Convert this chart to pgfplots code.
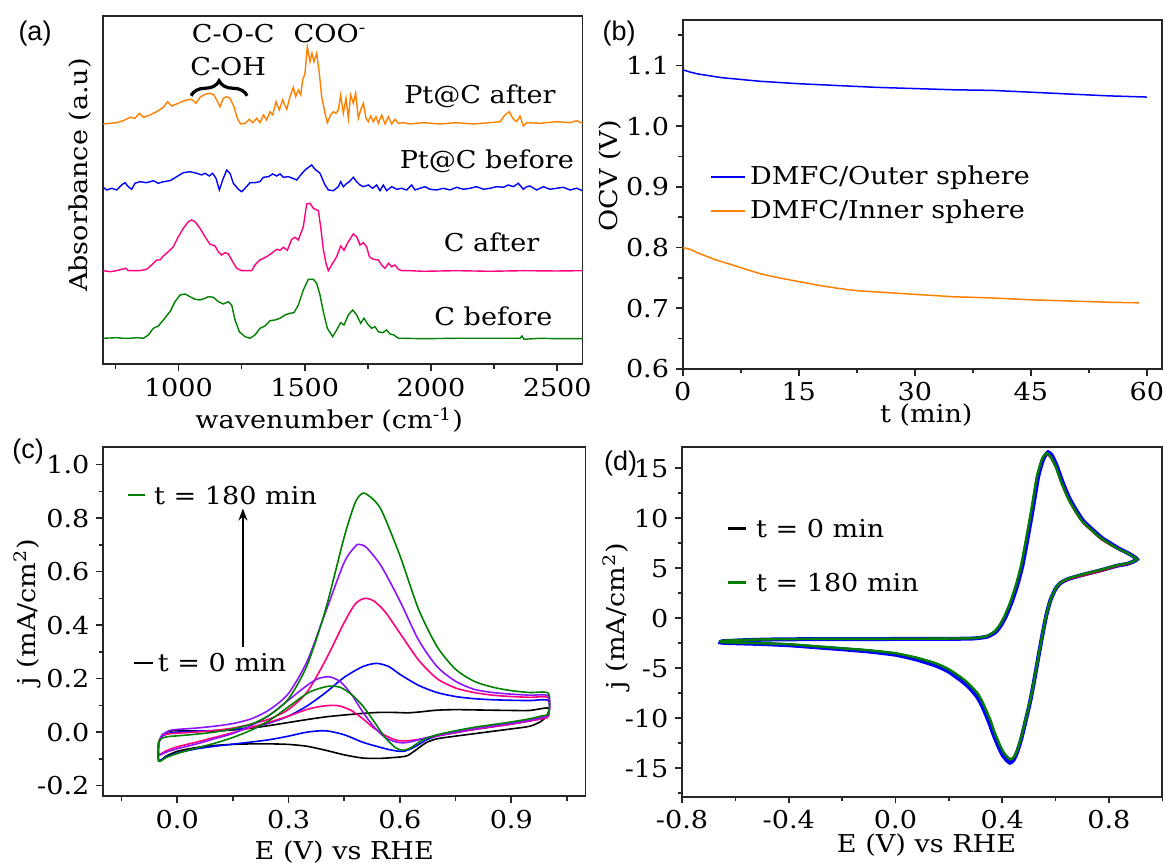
\documentclass[border=0pt]{standalone}
\usepackage{fontspec}
\setmainfont{DejaVu Serif}[FakeStretch=1.1]
\newfontfamily\sansf{Liberation Sans}
\usepackage{pgfplots}
\pgfplotsset{compat=1.18}
\usetikzlibrary{decorations.pathreplacing,arrows.meta}
\definecolor{cOrange}{RGB}{255,128,0}
\definecolor{cBlue}{RGB}{0,0,255}
\definecolor{cPink}{RGB}{255,0,128}
\definecolor{cGreen}{RGB}{0,128,0}
\definecolor{cViolet}{RGB}{140,20,255}
\definecolor{cRed}{RGB}{200,0,60}
\newcommand{\tf}{\fontsize{12.3}{14.5}\selectfont}
\pgfplotsset{
  myax/.style={scale only axis, anchor=south west,
    axis line style={line width=0.9pt, black!85},
    every tick/.style={line width=0.8pt, black!85},
    tick align=outside, tick pos=left,
    major tick length=3.3pt, minor tick length=2.2pt,
    tick label style={font=\tf},
    label style={font=\tf},
    /pgf/number format/assume math mode=true,
    /pgf/number format/1000 sep={},
    clip=false},
  onedec/.style={/pgf/number format/.cd, fixed, fixed zerofill, precision=1}
}
\begin{document}
\begin{tikzpicture}
\path[use as bounding box] (0,0) rectangle (582.5pt,432.5pt);

% ---------------- (a) ----------------
\begin{axis}[myax, at={(51.35pt,250.35pt)}, width=239.9pt, height=174.3pt,
  xmin=700, xmax=2600, ymin=0, ymax=348.6,
  xtick={1000,1500,2000,2500}, minor xtick={750,1250,1750,2250}, ytick=\empty,
  xlabel={wavenumber (cm\textsuperscript{-1})}, ylabel={Absorbance (a.u)},
  xlabel style={at={(rel axis cs:0.472,-0.16)}, anchor=center},
  ylabel style={at={(rel axis cs:-0.047,0.543)}, anchor=center},
  every axis plot/.append style={line width=0.7pt}]
\addplot[cOrange] table {
702.5 240.3
728.9 241.0
755.3 241.6
781.7 243.6
808.1 247.0
827.9 246.0
845.1 251.0
860.9 247.0
887.3 249.3
913.7 252.6
940.1 257.0
957.3 262.6
973.1 258.3
992.9 260.3
1012.7 262.6
1032.5 264.3
1052.3 265.0
1069.5 261.0
1085.3 267.0
1105.1 270.0
1124.9 271.0
1140.7 269.3
1151.3 264.3
1164.5 257.6
1177.7 266.0
1190.9 267.6
1204.1 266.0
1219.9 257.6
1233.1 246.0
1246.3 240.3
1263.5 241.0
1280.7 245.0
1293.9 241.6
1309.7 246.0
1322.9 241.6
1336.1 249.3
1349.3 244.3
1362.5 252.6
1373.1 249.3
1386.3 262.6
1399.5 254.3
1412.7 264.3
1428.5 255.0
1441.7 267.6
1454.9 277.0
1464.1 267.6
1474.7 274.3
1483.9 269.3
1491.9 284.3
1501.1 291.0
1510.3 317.6
1520.9 302.6
1528.8 311.0
1536.7 302.6
1547.3 311.0
1557.9 291.0
1567.1 267.6
1580.3 251.0
1589.5 241.6
1602.7 249.3
1613.3 252.6
1623.9 251.0
1633.1 254.3
1642.3 269.3
1652.9 251.0
1663.5 266.0
1672.7 246.0
1681.9 269.3
1692.5 261.0
1701.7 271.0
1712.3 246.0
1721.5 254.3
1732.1 261.0
1742.7 246.0
1751.9 242.6
1761.1 248.3
1771.7 242.6
1782.3 247.6
1791.5 241.0
1804.7 249.3
1817.9 240.3
1831.1 247.6
1844.3 240.3
1857.5 245.0
1870.7 241.0
1890.5 241.6
1916.9 240.3
1969.7 241.6
2035.7 240.3
2101.7 241.6
2167.7 240.3
2233.7 241.6
2273.3 242.6
2293.1 249.3
2310.3 252.6
2323.5 246.0
2339.3 242.6
2352.5 248.3
2365.7 238.3
2378.9 241.6
2431.7 241.0
2497.7 242.6
2550.5 241.6
2576.9 243.6
2600.0 241.0
};
\addplot[cBlue] table {
702.5 177.0
715.7 174.3
735.5 176.0
755.3 174.3
775.1 179.3
788.3 181.6
801.5 177.6
814.7 175.0
827.9 181.0
847.7 182.6
874.1 181.6
900.5 183.6
920.3 181.0
940.1 182.6
966.5 183.6
992.9 187.6
1019.3 191.6
1045.7 192.6
1072.1 191.0
1091.9 189.3
1105.1 191.0
1122.3 188.3
1135.5 191.0
1148.7 186.0
1161.9 174.3
1175.1 184.3
1190.9 194.3
1204.1 191.0
1217.3 181.0
1237.1 175.0
1250.3 172.6
1263.5 176.0
1283.3 181.6
1303.1 181.6
1322.9 182.6
1336.1 187.0
1355.9 187.6
1373.1 190.3
1388.9 188.3
1402.1 190.3
1415.3 187.0
1435.1 187.6
1452.3 186.0
1468.1 184.3
1483.9 189.3
1501.1 194.3
1518.3 197.6
1527.5 199.3
1540.7 195.0
1560.5 191.0
1580.3 179.3
1593.5 174.3
1613.3 173.6
1633.1 177.6
1642.3 182.6
1652.9 177.6
1663.5 180.3
1676.7 182.6
1692.5 187.0
1705.7 182.6
1718.9 179.3
1732.1 177.6
1751.9 179.3
1769.1 176.0
1784.9 179.3
1798.1 173.6
1811.3 179.3
1824.5 173.6
1844.3 177.6
1864.1 175.0
1883.9 176.0
1903.7 174.3
1923.5 179.3
1936.7 174.3
1956.5 176.0
1976.3 177.6
1996.1 175.0
2022.5 174.3
2048.9 176.0
2075.3 174.3
2101.7 177.0
2128.1 175.0
2154.5 176.0
2180.9 177.6
2207.3 175.0
2233.7 176.0
2260.1 177.6
2286.5 177.0
2306.3 179.3
2326.1 177.6
2345.9 181.0
2365.7 175.0
2378.9 177.6
2392.1 178.3
2418.5 174.3
2444.9 177.6
2471.3 175.0
2497.7 176.0
2524.1 177.0
2550.5 174.3
2576.9 176.0
2600.0 173.6
};
\addplot[cPink] table {
702.5 93.6
728.9 92.6
755.3 93.6
775.1 95.0
792.3 96.0
801.5 93.6
821.3 93.6
847.7 93.6
874.1 95.0
893.9 99.3
913.7 104.3
926.9 104.3
940.1 108.3
959.9 112.6
979.7 117.6
999.5 127.6
1019.3 136.0
1039.1 142.6
1052.3 144.3
1065.5 142.6
1085.3 136.0
1105.1 127.6
1124.9 120.0
1144.7 118.3
1157.9 112.6
1171.1 109.3
1184.3 111.6
1197.5 110.3
1214.7 102.6
1230.5 96.0
1250.3 93.6
1270.1 93.6
1289.9 93.6
1303.1 99.3
1322.9 104.3
1349.3 107.6
1369.1 111.0
1388.9 115.0
1402.1 114.0
1415.3 117.0
1431.1 114.0
1448.3 125.0
1461.5 127.0
1474.7 124.3
1494.5 137.6
1507.7 160.3
1520.9 161.0
1534.1 156.0
1553.9 153.6
1563.1 137.6
1573.7 115.0
1584.3 101.0
1593.5 93.6
1606.7 99.3
1626.5 107.6
1642.3 118.3
1655.5 114.0
1672.7 122.6
1692.5 130.3
1705.7 127.6
1718.9 119.3
1732.1 121.6
1745.3 117.6
1755.9 107.6
1771.7 105.0
1791.5 104.3
1804.7 99.3
1817.9 96.0
1831.1 101.0
1844.3 97.6
1857.5 99.3
1870.7 95.0
1883.9 93.6
1916.9 93.6
1969.7 93.0
2101.7 93.6
2233.7 93.0
2365.7 93.6
2497.7 93.3
2600.0 93.6
};
\addplot[cGreen] table {
702.5 26.0
755.3 26.6
781.7 26.0
808.1 26.0
834.5 26.6
860.9 26.0
880.7 29.3
900.5 36.0
920.3 38.3
940.1 44.3
966.5 52.6
986.3 62.6
1006.1 69.3
1025.9 70.3
1045.7 67.6
1065.5 65.0
1085.3 64.3
1105.1 66.0
1118.3 67.6
1138.1 67.0
1157.9 62.6
1177.7 60.3
1197.5 62.6
1210.7 59.3
1223.9 44.3
1241.1 32.6
1263.5 27.6
1283.3 26.0
1303.1 29.3
1322.9 36.0
1342.7 38.3
1362.5 43.6
1382.3 44.3
1402.1 46.0
1421.9 49.3
1441.7 51.0
1457.5 51.6
1474.7 59.3
1494.5 74.3
1514.3 85.0
1534.1 85.0
1547.3 81.0
1560.5 69.3
1573.7 52.6
1589.5 36.0
1610.7 27.6
1626.5 34.3
1642.3 41.6
1655.5 39.3
1672.7 49.3
1689.9 54.3
1705.7 49.3
1721.5 41.0
1734.7 46.0
1751.9 39.3
1765.1 36.0
1778.3 37.6
1791.5 32.6
1808.7 31.6
1824.5 34.3
1837.7 30.3
1853.5 29.3
1870.7 26.0
1890.5 26.0
1969.7 25.6
2101.7 26.0
2233.7 26.0
2352.5 26.0
2360.4 28.3
2368.3 25.0
2431.7 26.0
2497.7 25.6
2600.0 25.6
};
\node[font=\tf] at (axis cs:1217,331) {C-O-C};
\node[font=\tf] at (axis cs:1197,297.6) {C-OH};
\node[font=\tf] at (axis cs:1600,331) {COO\textsuperscript{-}};
\draw[decorate, decoration={brace, amplitude=7.5pt}, line width=1.6pt] (axis cs:1050,268.5) -- (axis cs:1272,268.5);
\node[font=\tf] at (axis cs:2194,267.6) {Pt@C after};
\node[font=\tf] at (axis cs:2221,202.6) {Pt@C before};
\node[font=\tf] at (axis cs:2240,122) {C after};
\node[font=\tf] at (axis cs:2247,47.6) {C before};
\end{axis}

% ---------------- (b) ----------------
\begin{axis}[myax, at={(341.35pt,248pt)}, width=239.8pt, height=174.5pt,
  xmin=0, xmax=62, ymin=0.6, ymax=1.175,
  xtick={0,15,30,45,60}, minor xtick={7.5,22.5,37.5,52.5},
  ytick={0.6,0.7,0.8,0.9,1.0,1.1}, minor ytick={0.65,0.75,0.85,0.95,1.05,1.15},
  yticklabel style={onedec},
  xlabel={t (min)}, ylabel={OCV (V)},
  xlabel style={at={(rel axis cs:0.508,-0.132)}, anchor=center},
  ylabel style={at={(rel axis cs:-0.152,0.553)}, anchor=center},
  legend style={draw=none, fill=none, at={(0.045,0.605)}, anchor=north west, font=\tf, row sep=2pt},
  legend cell align=left,
  legend image code/.code={\draw[#1] (0pt,0pt) -- (17pt,0pt);},
  every axis plot/.append style={line width=0.75pt}]
\addplot[cBlue] table {
0 1.093
1 1.089
2 1.086
3 1.084
5 1.080
7.5 1.077
10 1.074
12.5 1.072
15 1.070
20 1.067
25 1.064
30 1.062
35 1.060
40 1.059
45 1.056
50 1.053
55 1.050
60 1.048
};
\addlegendentry{DMFC/Outer sphere}
\addplot[cOrange] table {
0 0.800
1 0.797
2 0.791
3 0.786
4 0.781
5 0.777
7.5 0.767
10 0.757
12.5 0.750
15 0.744
17.5 0.738
20 0.733
22.5 0.729
25 0.727
30 0.723
35 0.719
40 0.717
45 0.714
50 0.712
55 0.710
59 0.709
};
\addlegendentry{DMFC/Inner sphere}
\end{axis}

% ---------------- (c) ----------------
\begin{axis}[myax, at={(51.5pt,34.35pt)}, width=241.25pt, height=174.5pt,
  xmin=-0.2, xmax=1.1, ymin=-0.24, ymax=1.065,
  xtick={0,0.3,0.6,0.9}, minor xtick={-0.15,0.15,0.45,0.75,1.05},
  ytick={-0.2,0,0.2,0.4,0.6,0.8,1.0}, minor ytick={-0.1,0.1,0.3,0.5,0.7,0.9},
  xticklabel style={onedec}, yticklabel style={onedec},
  xlabel={E (V) vs RHE}, ylabel={j (mA/cm\textsuperscript{2})},
  xlabel style={at={(rel axis cs:0.5,-0.159)}, anchor=center},
  ylabel style={at={(rel axis cs:-0.157,0.528)}, anchor=center},
  every axis plot/.append style={line width=0.8pt, smooth, tension=0.45}]
\addplot[black] table {
-0.05 -0.04
-0.04 -0.01
-0.02 0.003
0.0 0.006
0.05 0.004
0.1 0.004
0.15 0.008
0.2 0.015
0.25 0.025
0.3 0.036
0.35 0.047
0.4 0.057
0.45 0.064
0.5 0.07
0.55 0.074
0.6 0.073
0.62 0.072
0.65 0.075
0.7 0.082
0.75 0.084
0.8 0.083
0.9 0.081
0.95 0.081
1.0 0.09
0.995 0.06
0.98 0.04
0.95 0.022
0.9 0.012
0.85 0.003
0.8 -0.006
0.75 -0.015
0.7 -0.025
0.67 -0.04
0.64 -0.07
0.62 -0.088
0.6 -0.093
0.55 -0.098
0.5 -0.097
0.45 -0.085
0.4 -0.068
0.35 -0.053
0.3 -0.046
0.25 -0.044
0.2 -0.044
0.15 -0.046
0.1 -0.05
0.05 -0.058
0.0 -0.072
-0.03 -0.09
-0.05 -0.108
-0.05 -0.04
};
\addplot[cBlue] table {
-0.05 -0.04
-0.04 -0.015
-0.02 -0.004
0.0 0.0
0.05 0.003
0.1 0.006
0.15 0.01
0.2 0.018
0.25 0.035
0.3 0.06
0.35 0.098
0.4 0.148
0.45 0.205
0.5 0.245
0.537 0.257
0.57 0.245
0.6 0.216
0.65 0.175
0.7 0.148
0.75 0.133
0.8 0.125
0.85 0.121
0.9 0.119
0.95 0.118
1.0 0.118
1.0 0.06
0.98 0.05
0.95 0.042
0.9 0.03
0.85 0.02
0.8 0.01
0.75 -0.002
0.7 -0.015
0.67 -0.03
0.64 -0.055
0.61 -0.072
0.58 -0.068
0.55 -0.058
0.5 -0.038
0.45 -0.01
0.4 0.005
0.35 0.0
0.3 -0.015
0.25 -0.028
0.2 -0.037
0.15 -0.045
0.1 -0.053
0.05 -0.063
0.0 -0.078
-0.03 -0.093
-0.05 -0.105
-0.05 -0.04
};
\addplot[cPink] table {
-0.05 -0.035
-0.04 -0.012
-0.02 -0.006
0.0 -0.004
0.05 0.0
0.1 0.006
0.15 0.015
0.2 0.03
0.25 0.05
0.3 0.085
0.35 0.15
0.4 0.27
0.45 0.41
0.48 0.48
0.505 0.5
0.53 0.49
0.56 0.45
0.6 0.37
0.65 0.27
0.7 0.2
0.75 0.165
0.8 0.148
0.85 0.138
0.9 0.133
0.95 0.13
1.0 0.128
1.0 0.06
0.98 0.05
0.95 0.042
0.9 0.03
0.85 0.02
0.8 0.01
0.75 -0.002
0.7 -0.014
0.66 -0.025
0.63 -0.031
0.61 -0.033
0.59 -0.03
0.56 -0.012
0.53 0.015
0.5 0.05
0.47 0.08
0.44 0.097
0.42 0.1
0.39 0.097
0.35 0.085
0.3 0.06
0.25 0.038
0.2 0.018
0.15 -0.002
0.1 -0.02
0.05 -0.038
0.0 -0.055
-0.03 -0.07
-0.05 -0.083
-0.05 -0.035
};
\addplot[cViolet] table {
-0.05 -0.04
-0.04 -0.01
-0.02 0.006
0.0 0.01
0.05 0.015
0.1 0.022
0.15 0.032
0.2 0.05
0.25 0.085
0.3 0.145
0.35 0.265
0.4 0.45
0.45 0.635
0.48 0.695
0.49 0.702
0.51 0.69
0.55 0.62
0.6 0.49
0.65 0.345
0.7 0.245
0.75 0.19
0.8 0.16
0.85 0.148
0.9 0.142
0.95 0.138
1.0 0.135
1.0 0.065
0.98 0.055
0.95 0.045
0.9 0.033
0.85 0.023
0.8 0.013
0.75 0.0
0.7 -0.012
0.66 -0.025
0.63 -0.036
0.61 -0.04
0.59 -0.037
0.56 -0.02
0.53 0.02
0.5 0.075
0.47 0.14
0.44 0.188
0.41 0.207
0.38 0.2
0.35 0.175
0.3 0.12
0.25 0.065
0.2 0.025
0.15 -0.005
0.1 -0.025
0.05 -0.045
0.0 -0.062
-0.03 -0.075
-0.05 -0.085
-0.05 -0.04
};
\addplot[cGreen] table {
-0.05 -0.035
-0.04 -0.022
-0.02 -0.016
0.0 -0.014
0.05 -0.008
0.1 0.0
0.15 0.012
0.2 0.03
0.25 0.065
0.3 0.125
0.35 0.25
0.4 0.46
0.45 0.73
0.48 0.86
0.5 0.893
0.52 0.88
0.55 0.83
0.6 0.66
0.65 0.46
0.7 0.32
0.75 0.235
0.8 0.19
0.85 0.168
0.9 0.155
0.95 0.148
1.0 0.145
1.0 0.07
0.98 0.06
0.95 0.05
0.9 0.038
0.85 0.028
0.8 0.018
0.75 0.005
0.7 -0.01
0.66 -0.03
0.63 -0.058
0.61 -0.068
0.59 -0.06
0.56 -0.02
0.53 0.04
0.5 0.098
0.47 0.14
0.44 0.167
0.41 0.172
0.38 0.162
0.35 0.145
0.3 0.095
0.25 0.045
0.2 0.008
0.15 -0.02
0.1 -0.042
0.05 -0.06
0.0 -0.08
-0.03 -0.095
-0.05 -0.108
-0.05 -0.035
};
\draw[cGreen, line width=0.9pt] (axis cs:-0.132,0.886) -- (axis cs:-0.086,0.886);
\node[font=\tf, anchor=west, inner sep=0pt] at (axis cs:-0.063,0.886) {t = 180 min};
\draw[black, line width=0.9pt] (axis cs:-0.117,0.259) -- (axis cs:-0.066,0.259);
\node[font=\tf, anchor=west, inner sep=0pt] at (axis cs:-0.053,0.259) {t = 0 min};
\draw[-{Stealth[length=6pt,width=4.5pt]}, line width=0.8pt] (axis cs:0.177,0.32) -- (axis cs:0.177,0.836);
\end{axis}

% ---------------- (d) ----------------
\begin{axis}[myax, at={(341pt,34.15pt)}, width=240.15pt, height=174.7pt,
  xmin=-0.8, xmax=1.0, ymin=-17.85, ymax=17.1,
  xtick={-0.8,-0.4,0,0.4,0.8}, minor xtick={-0.6,-0.2,0.2,0.6,1.0},
  ytick={-15,-10,-5,0,5,10,15}, minor ytick={-17.5,-12.5,-7.5,-2.5,2.5,7.5,12.5},
  xticklabel style={onedec},
  xlabel={E (V) vs RHE}, ylabel={j (mA/cm\textsuperscript{2})},
  xlabel style={at={(rel axis cs:0.509,-0.138)}, anchor=center},
  ylabel style={at={(rel axis cs:-0.136,0.517)}, anchor=center},
  every axis plot/.append style={smooth, tension=0.35}]
\addplot[cBlue, line width=2pt] table {
-0.65 -2.3
-0.55 -2.18
-0.45 -2.12
-0.3 -2.09
-0.1 -2.08
0.1 -2.07
0.25 -2.05
0.3 -2.01
0.345 -1.83
0.375 -1.38
0.395 -0.72
0.415 0.28
0.435 1.58
0.455 3.18
0.475 5.18
0.495 7.98
0.515 10.98
0.535 14.18
0.555 16.0
0.572 16.6
0.587 16.25
0.605 15.2
0.625 13.7
0.65 12.1
0.675 10.9
0.705 9.7
0.745 8.7
0.775 8.0
0.805 7.5
0.835 7.0
0.872 6.5
0.905 5.9
0.87 5.45
0.83 5.25
0.77 4.8
0.71 4.4
0.65 3.95
0.62 3.55
0.60 2.95
0.58 1.75
0.565 0.25
0.55 -1.75
0.535 -3.95
0.52 -6.2
0.505 -8.3
0.487 -10.35
0.47 -12.2
0.455 -13.45
0.442 -14.2
0.429 -14.45
0.417 -14.2
0.402 -13.7
0.387 -12.9
0.367 -11.6
0.352 -10.5
0.327 -8.9
0.307 -7.9
0.277 -6.95
0.247 -6.25
0.197 -5.3
0.147 -4.7
0.077 -4.12
0.0 -3.65
-0.1 -3.33
-0.2 -3.1
-0.3 -2.9
-0.4 -2.7
-0.5 -2.58
-0.65 -2.45
-0.65 -2.3
};
\addplot[cRed, line width=0.8pt] table {
-0.65 -2.25
-0.55 -2.15
-0.45 -2.1
-0.3 -2.07
-0.1 -2.06
0.1 -2.05
0.25 -2.02
0.3 -1.98
0.34 -1.8
0.37 -1.35
0.39 -0.7
0.41 0.3
0.43 1.6
0.45 3.2
0.47 5.2
0.49 8.0
0.51 11.0
0.53 14.2
0.55 16.0
0.565 16.4
0.58 16.1
0.60 15.1
0.62 13.6
0.645 12.0
0.67 10.8
0.70 9.6
0.74 8.6
0.77 7.9
0.80 7.4
0.83 6.95
0.87 6.45
0.905 5.9
0.87 5.4
0.83 5.2
0.77 4.7
0.71 4.3
0.65 3.9
0.62 3.5
0.60 2.9
0.58 1.75
0.565 0.3
0.55 -1.7
0.535 -3.9
0.52 -6.1
0.505 -8.2
0.487 -10.2
0.47 -12.0
0.456 -13.2
0.443 -13.9
0.431 -14.1
0.42 -13.9
0.405 -13.4
0.39 -12.6
0.37 -11.3
0.356 -10.2
0.33 -8.6
0.31 -7.6
0.28 -6.7
0.25 -6.0
0.2 -5.1
0.15 -4.5
0.08 -3.95
0.0 -3.5
-0.1 -3.2
-0.2 -3.0
-0.3 -2.8
-0.4 -2.6
-0.5 -2.5
-0.65 -2.4
-0.65 -2.25
};
\addplot[cGreen, line width=1.2pt] table {
-0.65 -2.25
-0.55 -2.15
-0.45 -2.1
-0.3 -2.07
-0.1 -2.06
0.1 -2.05
0.25 -2.02
0.3 -1.98
0.34 -1.8
0.37 -1.35
0.39 -0.7
0.41 0.3
0.43 1.6
0.45 3.2
0.47 5.2
0.49 8.0
0.51 11.0
0.53 14.2
0.55 16.0
0.565 16.5
0.58 16.2
0.60 15.2
0.62 13.7
0.645 12.1
0.67 10.9
0.70 9.7
0.74 8.7
0.77 8.0
0.80 7.5
0.83 7.0
0.87 6.5
0.905 5.9
0.87 5.5
0.83 5.3
0.77 4.85
0.71 4.45
0.65 4.0
0.62 3.6
0.60 3.0
0.58 1.8
0.565 0.3
0.55 -1.7
0.535 -3.9
0.52 -6.1
0.505 -8.2
0.487 -10.2
0.47 -12.0
0.456 -13.2
0.443 -13.9
0.431 -14.1
0.42 -13.9
0.405 -13.4
0.39 -12.6
0.37 -11.3
0.356 -10.2
0.33 -8.6
0.31 -7.6
0.28 -6.7
0.25 -6.0
0.2 -5.1
0.15 -4.5
0.08 -3.95
0.0 -3.5
-0.1 -3.2
-0.2 -3.0
-0.3 -2.8
-0.4 -2.6
-0.5 -2.5
-0.65 -2.4
-0.65 -2.25
};
\draw[black, line width=1.5pt] (axis cs:-0.629,8.93) -- (axis cs:-0.559,8.93);
\node[font=\tf, anchor=west, inner sep=0pt] at (axis cs:-0.524,8.93) {t = 0 min};
\draw[cGreen, line width=1.5pt] (axis cs:-0.629,3.56) -- (axis cs:-0.559,3.56);
\node[font=\tf, anchor=west, inner sep=0pt] at (axis cs:-0.524,3.56) {t = 180 min};
\end{axis}

% panel labels
\node[font=\sansf\fontsize{13.5}{16}\selectfont] at (17.5pt,415.5pt) {(a)};
\node[font=\sansf\fontsize{13.5}{16}\selectfont] at (309.5pt,415.5pt) {(b)};
\node[font=\sansf\fontsize{13.5}{16}\selectfont] at (14pt,206.5pt) {(c)};
\node[font=\sansf\fontsize{13.5}{16}\selectfont] at (310.25pt,200.5pt) {(d)};
\end{tikzpicture}
\end{document}
